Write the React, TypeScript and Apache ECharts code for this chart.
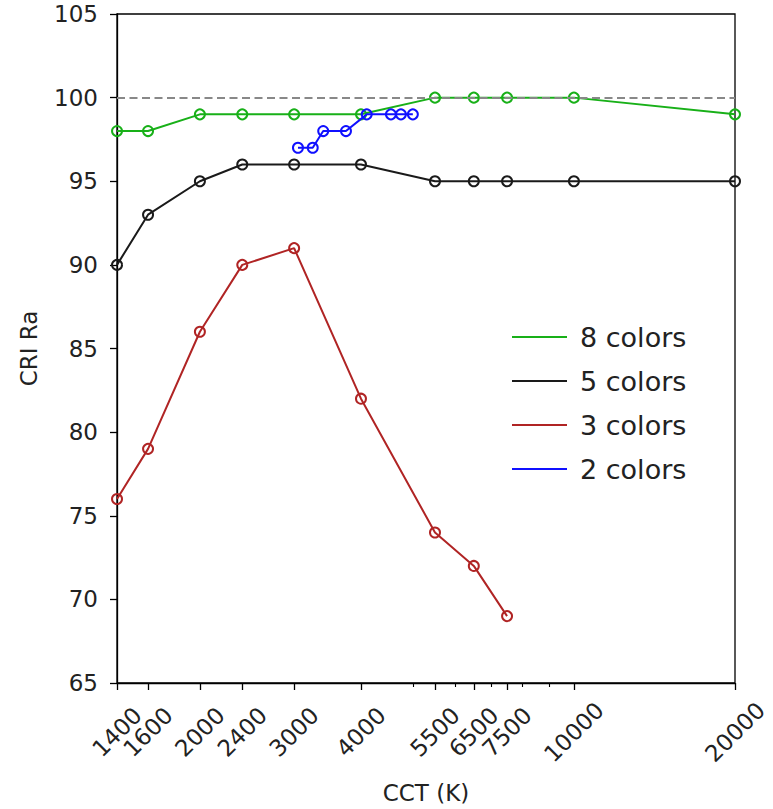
import React, { useEffect, useRef } from "react";
import * as echarts from "echarts";

const xTickValues = [1400, 1600, 2000, 2400, 3000, 4000, 5500, 6500, 7500, 10000, 20000];
const xMinorTickValues = [5000, 6000, 7000, 8000, 9000];
const yMin = 65;
const yMax = 105;
const yInterval = 5;
const referenceCri = 100;

const cct8 = [1400, 1600, 2000, 2400, 3000, 4000, 5500, 6500, 7500, 10000, 20000];
const cri8 = [98, 98, 99, 99, 99, 99, 100, 100, 100, 100, 99];
const cct5 = [1400, 1600, 2000, 2400, 3000, 4000, 5500, 6500, 7500, 10000, 20000];
const cri5 = [90, 93, 95, 96, 96, 96, 95, 95, 95, 95, 95];
const cct3 = [1400, 1600, 2000, 2400, 3000, 4000, 5500, 6500, 7500];
const cri3 = [76, 79, 86, 90, 91, 82, 74, 72, 69];
const cct2 = [3050, 3250, 3400, 3750, 4100, 4550, 4750, 5000];
const cri2 = [97, 97, 98, 98, 99, 99, 99, 99];

const seriesNames = ["8 colors", "5 colors", "3 colors", "2 colors"];
const seriesColors = ["#18b018", "#1a1a1a", "#b02424", "#1010ff"];
const seriesX = [cct8, cct5, cct3, cct2];
const seriesY = [cri8, cri5, cri3, cri2];

const FONT = "DejaVu Sans";
const XMIN = 1399.95;
const XMAX = 20000.05;

export default function App() {
  const ref = useRef<HTMLDivElement>(null);
  useEffect(() => {
    if (!ref.current) return;
    const chart = echarts.init(ref.current, undefined, { renderer: "svg" });
    const lineSeries = seriesNames.map((name, i) => ({
      name,
      type: "line",
      xAxisIndex: 0,
      yAxisIndex: 0,
      data: seriesX[i].map((x, j) => [x, seriesY[i][j]]),
      symbol: "circle",
      symbolSize: 10,
      showSymbol: true,
      itemStyle: { color: "rgba(255,255,255,0)", borderColor: seriesColors[i], borderWidth: 2 },
      lineStyle: { color: seriesColors[i], width: 2 },
      emphasis: { disabled: true },
      z: 3 + i,
    }));
    const labelStyle = {
      show: true,
      rotate: 45,
      align: "center",
      verticalAlign: "middle",
      margin: 49,
      fontFamily: FONT,
      fontSize: 23,
      color: "#222",
      formatter: (v: number) => String(Math.round(v)),
    };
    // the first tick label sits on the second axis so that ECharts' min-label overlap check keeps every label
    const firstLabel = xTickValues.slice(0, 1);
    const otherLabels = xTickValues.slice(1);
    const option: any = {
      animation: false,
      textStyle: { fontFamily: FONT },
      grid: {
        left: 117,
        right: 38,
        top: 14,
        bottom: 125,
        show: true,
        borderColor: "#000",
        borderWidth: 1.3,
        backgroundColor: "transparent",
      },
      legend: {
        left: 507,
        top: 317,
        orient: "vertical",
        icon: "rect",
        itemWidth: 55,
        itemHeight: 2,
        itemGap: 14,
        selectedMode: false,
        textStyle: {
          fontFamily: FONT,
          fontSize: 27,
          lineHeight: 30,
          color: "#222",
          padding: [0, 0, 0, 8],
        },
        data: seriesNames.map((name, i) => ({ name, itemStyle: { color: seriesColors[i], borderWidth: 0 } })),
      },
      xAxis: [
        {
          type: "log",
          logBase: 10,
          min: XMIN,
          max: XMAX,
          position: "bottom",
          name: "CCT (K)",
          nameLocation: "middle",
          nameGap: 98,
          nameTextStyle: { fontFamily: FONT, fontSize: 23, color: "#222" },
          axisLine: { show: true, lineStyle: { color: "#000", width: 1.3 } },
          axisTick: { show: true, length: 7, lineStyle: { color: "#000", width: 1.3 }, customValues: xTickValues },
          axisLabel: { ...labelStyle, customValues: otherLabels, showMinLabel: true, showMaxLabel: true },
          splitLine: { show: false },
          minorTick: { show: false },
        },
        {
          type: "log",
          logBase: 10,
          min: XMIN,
          max: XMAX,
          position: "bottom",
          axisLine: { show: false },
          axisTick: { show: true, length: 4, lineStyle: { color: "#000", width: 1.1 }, customValues: xMinorTickValues },
          axisLabel: { ...labelStyle, customValues: firstLabel, showMinLabel: true, showMaxLabel: true },
          splitLine: { show: false },
        },
      ],
      yAxis: {
        type: "value",
        min: yMin,
        max: yMax,
        interval: yInterval,
        name: "CRI Ra",
        nameLocation: "middle",
        nameGap: 77,
        nameTextStyle: { fontFamily: FONT, fontSize: 23, color: "#222" },
        axisLine: { show: true, lineStyle: { color: "#000", width: 1.3 } },
        axisTick: { show: true, length: 7, lineStyle: { color: "#000", width: 1.3 } },
        axisLabel: { margin: 19, fontFamily: FONT, fontSize: 23, color: "#222" },
        splitLine: { show: false },
      },
      series: [
        {
          name: "reference",
          type: "line",
          data: [],
          z: 1,
          markLine: {
            silent: true,
            symbol: ["none", "none"],
            label: { show: false },
            lineStyle: { color: "#888", width: 2, type: [8, 4.5] },
            data: [{ yAxis: referenceCri }],
          },
        },
        ...lineSeries,
      ],
    };
    chart.setOption(option);
    return () => chart.dispose();
  }, []);
  return (
    <div
      ref={ref}
      style={{ position: "fixed", left: 0, top: 0, width: 773, height: 809, background: "#fff" }}
    />
  );
}
